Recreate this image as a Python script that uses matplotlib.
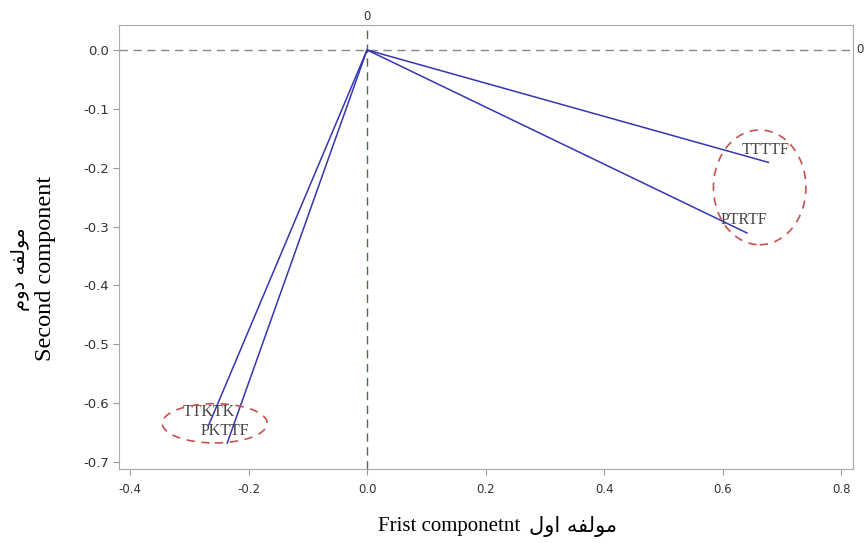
import matplotlib.pyplot as plt
from matplotlib.patches import Ellipse

# loadings
names = ['TTTTF', 'PTRTF', 'TTKTK', 'PKTTF']
comp1 = [0.677, 0.641, -0.267, -0.236]
comp2 = [-0.191, -0.311, -0.637, -0.668]

x_ticks = [-0.4, -0.2, 0.0, 0.2, 0.4, 0.6, 0.8]
y_ticks = [0.0, -0.1, -0.2, -0.3, -0.4, -0.5, -0.6, -0.7]

# Persian labels, pre-shaped (presentation forms, visual order)
fa_x = '\uFEDD\uFEED\uFE8D \uFEEA\uFED4\uFEDF\uFEEE\uFEE3'   # مولفه اول
fa_y = '\uFEE1\uFEED\uFEA9 \uFEEA\uFED4\uFEDF\uFEEE\uFEE3'   # مولفه دوم

fig = plt.figure(figsize=(8.64, 5.43), dpi=100)
ax = fig.add_axes([0.1377, 0.1363, 0.8496, 0.8177])

ax.axhline(0, color='#888888', lw=1.0, ls=(0, (6, 4)), zorder=1)
ax.axvline(0, color='#4f6a4f', lw=1.0, ls=(0, (6, 4)), zorder=1)

for n, x, y in zip(names, comp1, comp2):
    ax.plot([0, x], [0, y], color='#3535b0', lw=1.1, zorder=2)
    ax.annotate(n, (x, y), xytext=(-19, 9), textcoords='offset points',
                ha='left', va='center', fontsize=11.5, color='#444444',
                family='Liberation Serif')

# dashed rings round the two groups
for (cx, cy, w, h) in [(0.6625, -0.2335, 0.156, 0.195), (-0.257, -0.6344, 0.177, 0.0667)]:
    ax.add_patch(Ellipse((cx, cy), w, h, fill=False, ec='#c85050', lw=1.2,
                         ls=(0, (5, 4)), zorder=3))

ax.set_xlim(-0.4186, 0.820)
ax.set_ylim(-0.712, 0.0424)
ax.set_xticks(x_ticks)
ax.set_xticklabels(['%.1f' % v for v in x_ticks])
ax.set_yticks(y_ticks)
ax.set_yticklabels(['%.1f' % v for v in y_ticks])
ax.tick_params(direction='out', length=4, color='#999999', labelcolor='#333333')
ax.tick_params(axis='x', labelsize=8.5, pad=6)
ax.tick_params(axis='y', labelsize=9.5, pad=3)
for s in ax.spines.values():
    s.set_color('#aaaaaa')

# the "0" reference labels outside the frame
ax.text(0, 1.005, '0', transform=ax.get_xaxis_transform(), ha='center', va='bottom',
        fontsize=8.5, color='#333333')
ax.text(1.005, 0, '0', transform=ax.get_yaxis_transform(), ha='left', va='center',
        fontsize=8.5, color='#333333')

fig.text(0.0521, 0.505, 'Second component', rotation=90, ha='center', va='center',
         fontsize=17.5, family='Liberation Serif')
fig.text(0.024, 0.505, fa_y, rotation=90, ha='center', va='center',
         fontsize=14, family=['DejaVu Sans'])
fig.text(0.5197, 0.03, 'Frist componetnt', ha='center', va='center',
         fontsize=15, family='Liberation Serif')
fig.text(0.6125, 0.03, fa_x, ha='left', va='center',
         fontsize=15, family=['DejaVu Sans'])

plt.savefig('out.png', dpi=100)
